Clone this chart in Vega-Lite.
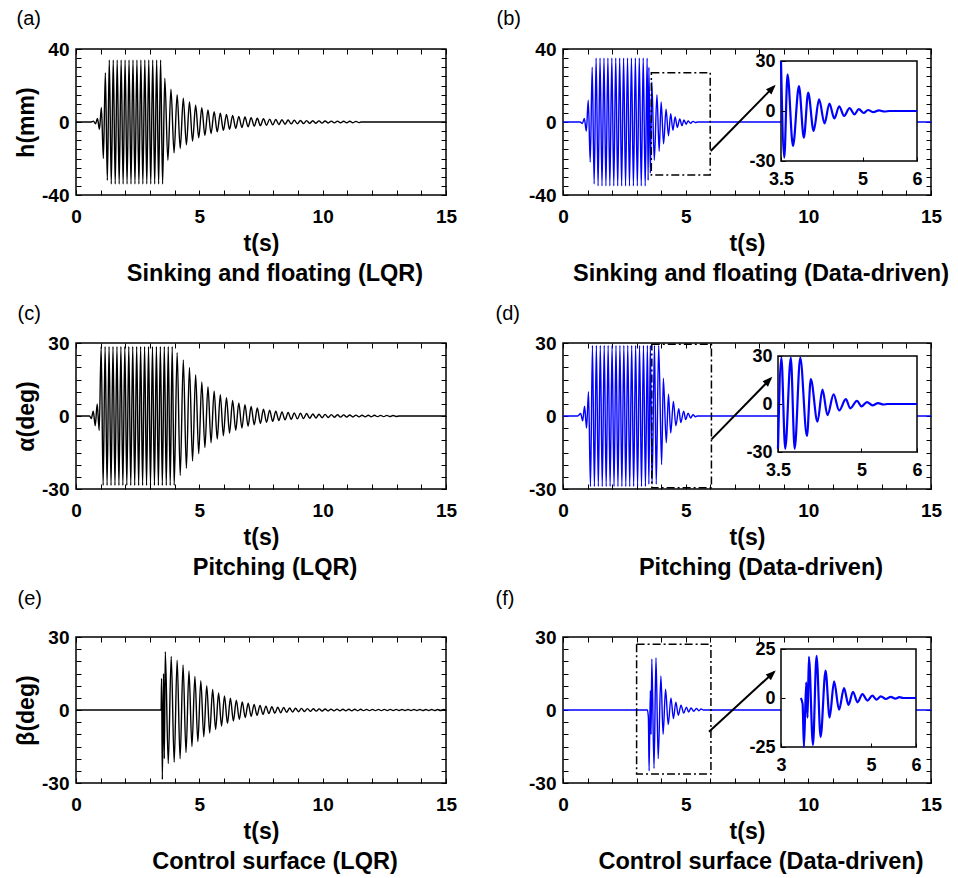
{
"$schema": "https://vega.github.io/schema/vega-lite/v6.json",
"background": "white",
"padding": {"left": 14, "top": 7, "right": 2, "bottom": 2},
"datasets": {
"a": [{"t":0,"v":0},{"t":0.6,"v":0},{"t":0.71,"v":0.5},{"t":0.79,"v":-1},{"t":0.87,"v":2},{"t":0.95,"v":-4},{"t":1.03,"v":8},{"t":1.11,"v":-20},{"t":1.19,"v":27},{"t":1.27,"v":-32},{"t":1.35,"v":34},{"t":1.43,"v":-34},{"t":1.51,"v":34},{"t":1.59,"v":-34},{"t":1.67,"v":34},{"t":1.75,"v":-34},{"t":1.83,"v":34},{"t":1.91,"v":-34},{"t":1.99,"v":34},{"t":2.07,"v":-34},{"t":2.15,"v":34},{"t":2.23,"v":-34},{"t":2.31,"v":34},{"t":2.39,"v":-34},{"t":2.47,"v":34},{"t":2.55,"v":-34},{"t":2.63,"v":34},{"t":2.71,"v":-34},{"t":2.79,"v":34},{"t":2.87,"v":-34},{"t":2.95,"v":34},{"t":3.03,"v":-34},{"t":3.11,"v":34},{"t":3.19,"v":-34},{"t":3.27,"v":34},{"t":3.35,"v":-34},{"t":3.43,"v":34},{"t":3.51,"v":-34},{"t":3.6,"v":24},{"t":3.725,"v":-21},{"t":3.85,"v":18},{"t":3.975,"v":-17},{"t":4.1,"v":15},{"t":4.225,"v":-14.5},{"t":4.35,"v":13},{"t":4.475,"v":-12.5},{"t":4.6,"v":11},{"t":4.725,"v":-10.5},{"t":4.85,"v":9.2},{"t":4.975,"v":-8.7},{"t":5.1,"v":7.8},{"t":5.225,"v":-7.4},{"t":5.35,"v":6.6},{"t":5.475,"v":-6.3},{"t":5.6,"v":5.6},{"t":5.725,"v":-5.4},{"t":5.85,"v":4.8},{"t":5.975,"v":-4.6},{"t":6.1,"v":4.2},{"t":6.225,"v":-4},{"t":6.35,"v":3.6},{"t":6.475,"v":-3.5},{"t":6.6,"v":3.1},{"t":6.725,"v":-3},{"t":6.85,"v":2.7},{"t":6.975,"v":-2.6},{"t":7.1,"v":2.35},{"t":7.225,"v":-2.3},{"t":7.35,"v":2.05},{"t":7.475,"v":-2},{"t":7.6,"v":1.8},{"t":7.725,"v":-1.75},{"t":7.85,"v":1.6},{"t":7.975,"v":-1.55},{"t":8.1,"v":1.4},{"t":8.225,"v":-1.35},{"t":8.35,"v":1.22},{"t":8.475,"v":-1.2},{"t":8.6,"v":1.08},{"t":8.725,"v":-1.05},{"t":8.85,"v":0.96},{"t":8.975,"v":-0.95},{"t":9.1,"v":0.86},{"t":9.225,"v":-0.85},{"t":9.35,"v":0.77},{"t":9.475,"v":-0.75},{"t":9.6,"v":0.7},{"t":9.725,"v":-0.68},{"t":9.85,"v":0.62},{"t":9.975,"v":-0.6},{"t":10.1,"v":0.56},{"t":10.225,"v":-0.55},{"t":10.35,"v":0.5},{"t":10.475,"v":-0.5},{"t":10.6,"v":0.46},{"t":10.725,"v":-0.45},{"t":10.85,"v":0.42},{"t":10.975,"v":-0.42},{"t":11.1,"v":0.4},{"t":11.225,"v":-0.38},{"t":11.35,"v":0.35},{"t":11.475,"v":-0.33},{"t":11.55,"v":0},{"t":15,"v":0}],
"b": [{"t":0,"v":0},{"t":0.7,"v":0},{"t":0.79,"v":-0.8},{"t":0.87,"v":2},{"t":0.95,"v":-5},{"t":1.03,"v":12},{"t":1.11,"v":-22},{"t":1.19,"v":30},{"t":1.27,"v":-34},{"t":1.35,"v":35},{"t":1.43,"v":-35},{"t":1.51,"v":35},{"t":1.59,"v":-35},{"t":1.67,"v":35},{"t":1.75,"v":-35},{"t":1.83,"v":35},{"t":1.91,"v":-35},{"t":1.99,"v":35},{"t":2.07,"v":-35},{"t":2.15,"v":35},{"t":2.23,"v":-35},{"t":2.31,"v":35},{"t":2.39,"v":-35},{"t":2.47,"v":35},{"t":2.55,"v":-35},{"t":2.63,"v":35},{"t":2.71,"v":-35},{"t":2.79,"v":35},{"t":2.87,"v":-35},{"t":2.95,"v":35},{"t":3.03,"v":-35},{"t":3.11,"v":35},{"t":3.19,"v":-35},{"t":3.27,"v":35},{"t":3.35,"v":-35},{"t":3.43,"v":35},{"t":3.47,"v":-32},{"t":3.5,"v":30},{"t":3.56,"v":-28},{"t":3.62,"v":22},{"t":3.72,"v":-21},{"t":3.83,"v":15},{"t":3.92,"v":-16},{"t":4.0,"v":11},{"t":4.1,"v":-12},{"t":4.2,"v":7},{"t":4.3,"v":-7.5},{"t":4.39,"v":4.5},{"t":4.48,"v":-4.5},{"t":4.57,"v":2.8},{"t":4.66,"v":-3},{"t":4.76,"v":1.7},{"t":4.85,"v":-2},{"t":4.93,"v":1.1},{"t":5.02,"v":-1.2},{"t":5.1,"v":0.6},{"t":5.2,"v":-0.7},{"t":5.3,"v":0.35},{"t":5.4,"v":-0.3},{"t":5.5,"v":0},{"t":6,"v":0},{"t":15,"v":0}],
"c": [{"t":0,"v":0},{"t":0.55,"v":0},{"t":0.62,"v":-1},{"t":0.7,"v":2},{"t":0.78,"v":-4},{"t":0.86,"v":5},{"t":0.94,"v":-6},{"t":1.02,"v":28.5},{"t":1.1,"v":-28.5},{"t":1.18,"v":28.5},{"t":1.26,"v":-28.5},{"t":1.34,"v":28.5},{"t":1.42,"v":-28.5},{"t":1.5,"v":28.5},{"t":1.58,"v":-28.5},{"t":1.66,"v":28.5},{"t":1.74,"v":-28.5},{"t":1.82,"v":28.5},{"t":1.9,"v":-28.5},{"t":1.98,"v":28.5},{"t":2.06,"v":-28.5},{"t":2.14,"v":28.5},{"t":2.22,"v":-28.5},{"t":2.3,"v":28.5},{"t":2.38,"v":-28.5},{"t":2.46,"v":28.5},{"t":2.54,"v":-28.5},{"t":2.62,"v":28.5},{"t":2.7,"v":-28.5},{"t":2.78,"v":28.5},{"t":2.86,"v":-28.5},{"t":2.94,"v":28.5},{"t":3.02,"v":-28.5},{"t":3.1,"v":28.5},{"t":3.18,"v":-28.5},{"t":3.26,"v":28.5},{"t":3.34,"v":-28.5},{"t":3.42,"v":28.5},{"t":3.5,"v":-28.5},{"t":3.58,"v":28.5},{"t":3.66,"v":-28.5},{"t":3.74,"v":28.5},{"t":3.82,"v":-28.5},{"t":3.9,"v":28.5},{"t":3.98,"v":-28.5},{"t":4.1,"v":26},{"t":4.225,"v":-24.5},{"t":4.35,"v":23},{"t":4.475,"v":-21.5},{"t":4.6,"v":20},{"t":4.725,"v":-18.5},{"t":4.85,"v":17},{"t":4.975,"v":-15.5},{"t":5.1,"v":14},{"t":5.225,"v":-13},{"t":5.35,"v":12},{"t":5.475,"v":-11},{"t":5.6,"v":10.3},{"t":5.725,"v":-9.5},{"t":5.85,"v":8.8},{"t":5.975,"v":-8.1},{"t":6.1,"v":7.5},{"t":6.225,"v":-7},{"t":6.35,"v":6.4},{"t":6.475,"v":-5.9},{"t":6.6,"v":5.4},{"t":6.725,"v":-5},{"t":6.85,"v":4.6},{"t":6.975,"v":-4.2},{"t":7.1,"v":3.9},{"t":7.225,"v":-3.6},{"t":7.35,"v":3.3},{"t":7.475,"v":-3.05},{"t":7.6,"v":2.8},{"t":7.725,"v":-2.6},{"t":7.85,"v":2.4},{"t":7.975,"v":-2.2},{"t":8.1,"v":2.0},{"t":8.225,"v":-1.85},{"t":8.35,"v":1.7},{"t":8.475,"v":-1.6},{"t":8.6,"v":1.5},{"t":8.725,"v":-1.4},{"t":8.85,"v":1.3},{"t":8.975,"v":-1.2},{"t":9.1,"v":1.1},{"t":9.225,"v":-1.05},{"t":9.35,"v":1.0},{"t":9.475,"v":-0.92},{"t":9.6,"v":0.85},{"t":9.725,"v":-0.8},{"t":9.85,"v":0.75},{"t":9.975,"v":-0.7},{"t":10.1,"v":0.65},{"t":10.225,"v":-0.62},{"t":10.35,"v":0.58},{"t":10.475,"v":-0.54},{"t":10.6,"v":0.5},{"t":10.725,"v":-0.48},{"t":10.85,"v":0.45},{"t":10.975,"v":-0.43},{"t":11.1,"v":0.4},{"t":11.225,"v":-0.38},{"t":11.35,"v":0.36},{"t":11.475,"v":-0.35},{"t":11.6,"v":0.33},{"t":11.725,"v":-0.32},{"t":11.85,"v":0.3},{"t":11.975,"v":-0.29},{"t":12.1,"v":0.28},{"t":12.225,"v":-0.27},{"t":12.35,"v":0.26},{"t":12.475,"v":-0.25},{"t":12.6,"v":0.24},{"t":12.725,"v":-0.23},{"t":12.85,"v":0.22},{"t":12.975,"v":-0.21},{"t":13.1,"v":0},{"t":15,"v":0}],
"d": [{"t":0,"v":0},{"t":0.6,"v":0},{"t":0.72,"v":1},{"t":0.8,"v":-2},{"t":0.88,"v":4},{"t":0.96,"v":-5},{"t":1.04,"v":10},{"t":1.12,"v":-29},{"t":1.2,"v":29},{"t":1.28,"v":-29},{"t":1.36,"v":29},{"t":1.44,"v":-29},{"t":1.52,"v":29},{"t":1.6,"v":-29},{"t":1.68,"v":29},{"t":1.76,"v":-29},{"t":1.84,"v":29},{"t":1.92,"v":-29},{"t":2.0,"v":29},{"t":2.08,"v":-29},{"t":2.16,"v":29},{"t":2.24,"v":-29},{"t":2.32,"v":29},{"t":2.4,"v":-29},{"t":2.48,"v":29},{"t":2.56,"v":-29},{"t":2.64,"v":29},{"t":2.72,"v":-29},{"t":2.8,"v":29},{"t":2.88,"v":-29},{"t":2.96,"v":29},{"t":3.04,"v":-29},{"t":3.12,"v":29},{"t":3.2,"v":-29},{"t":3.28,"v":29},{"t":3.36,"v":-29},{"t":3.44,"v":29},{"t":3.5,"v":-28},{"t":3.56,"v":29},{"t":3.63,"v":-28},{"t":3.73,"v":29},{"t":3.8,"v":-28},{"t":3.9,"v":29},{"t":4.02,"v":-20},{"t":4.09,"v":15.5},{"t":4.21,"v":-11},{"t":4.3,"v":9},{"t":4.39,"v":-7},{"t":4.5,"v":6},{"t":4.6,"v":-4},{"t":4.72,"v":3},{"t":4.8,"v":-2.7},{"t":4.92,"v":2},{"t":5.0,"v":-1.5},{"t":5.1,"v":1.2},{"t":5.2,"v":-0.8},{"t":5.3,"v":0.5},{"t":5.4,"v":-0.3},{"t":5.47,"v":0},{"t":6,"v":0},{"t":15,"v":0}],
"e": [{"t":0,"v":0},{"t":3.45,"v":0},{"t":3.47,"v":13},{"t":3.5,"v":-28.5},{"t":3.55,"v":15},{"t":3.58,"v":-20},{"t":3.62,"v":24},{"t":3.74,"v":-22},{"t":3.86,"v":22},{"t":3.98,"v":-21.5},{"t":4.1,"v":20.5},{"t":4.22,"v":-20},{"t":4.34,"v":18.5},{"t":4.46,"v":-17.5},{"t":4.58,"v":16},{"t":4.7,"v":-15},{"t":4.82,"v":13.8},{"t":4.94,"v":-13},{"t":5.06,"v":12},{"t":5.18,"v":-11},{"t":5.3,"v":10},{"t":5.42,"v":-9.5},{"t":5.54,"v":8.4},{"t":5.66,"v":-8},{"t":5.78,"v":7},{"t":5.9,"v":-6.6},{"t":6.02,"v":5.8},{"t":6.14,"v":-5.5},{"t":6.26,"v":4.8},{"t":6.38,"v":-4.5},{"t":6.5,"v":4},{"t":6.62,"v":-3.8},{"t":6.74,"v":3.3},{"t":6.86,"v":-3.1},{"t":6.98,"v":2.8},{"t":7.1,"v":-2.6},{"t":7.22,"v":2.3},{"t":7.34,"v":-2.2},{"t":7.46,"v":1.9},{"t":7.58,"v":-1.8},{"t":7.7,"v":1.6},{"t":7.82,"v":-1.5},{"t":7.94,"v":1.35},{"t":8.06,"v":-1.3},{"t":8.18,"v":1.15},{"t":8.3,"v":-1.1},{"t":8.42,"v":1.0},{"t":8.54,"v":-0.95},{"t":8.66,"v":0.85},{"t":8.78,"v":-0.8},{"t":8.9,"v":0.75},{"t":9.02,"v":-0.7},{"t":9.14,"v":0.65},{"t":9.26,"v":-0.62},{"t":9.38,"v":0.58},{"t":9.5,"v":-0.55},{"t":9.62,"v":0.5},{"t":9.74,"v":-0.48},{"t":9.86,"v":0.45},{"t":9.98,"v":-0.43},{"t":10.1,"v":0.4},{"t":10.22,"v":-0.38},{"t":10.34,"v":0.37},{"t":10.46,"v":-0.35},{"t":10.58,"v":0.34},{"t":10.7,"v":-0.33},{"t":10.82,"v":0.32},{"t":10.94,"v":-0.31},{"t":11.06,"v":0.3},{"t":11.18,"v":-0.3},{"t":11.3,"v":0.29},{"t":11.42,"v":-0.28},{"t":11.54,"v":0.28},{"t":11.66,"v":-0.27},{"t":11.78,"v":0.27},{"t":11.9,"v":-0.26},{"t":12.02,"v":0.26},{"t":12.14,"v":-0.25},{"t":12.26,"v":0.25},{"t":12.38,"v":-0.25},{"t":12.5,"v":0.25},{"t":12.62,"v":-0.24},{"t":12.74,"v":0.24},{"t":12.86,"v":-0.24},{"t":12.98,"v":0.24},{"t":13.1,"v":-0.23},{"t":13.22,"v":0.23},{"t":13.34,"v":-0.23},{"t":13.46,"v":0.23},{"t":13.58,"v":-0.22},{"t":13.7,"v":0.22},{"t":13.82,"v":-0.22},{"t":13.94,"v":0.22},{"t":14.06,"v":-0.22},{"t":14.18,"v":0.21},{"t":14.3,"v":-0.21},{"t":14.42,"v":0.21},{"t":14.54,"v":-0.21},{"t":14.66,"v":0.2},{"t":14.78,"v":-0.2},{"t":14.9,"v":0.2},{"t":15,"v":0}],
"f": [{"t":0,"v":0},{"t":3.44,"v":0},{"t":3.48,"v":-3},{"t":3.51,"v":-25},{"t":3.56,"v":8},{"t":3.59,"v":-10},{"t":3.62,"v":21},{"t":3.71,"v":-24},{"t":3.79,"v":21.5},{"t":3.88,"v":-20},{"t":3.99,"v":14},{"t":4.08,"v":-10},{"t":4.18,"v":8.5},{"t":4.29,"v":-6},{"t":4.4,"v":5},{"t":4.5,"v":-3.5},{"t":4.6,"v":3.2},{"t":4.7,"v":-2.2},{"t":4.81,"v":2},{"t":4.92,"v":-1.3},{"t":5.03,"v":1.2},{"t":5.12,"v":-0.8},{"t":5.22,"v":0.8},{"t":5.33,"v":-0.5},{"t":5.44,"v":0.6},{"t":5.54,"v":-0.3},{"t":5.63,"v":0.4},{"t":5.72,"v":0},{"t":6,"v":0},{"t":15,"v":0}]
},
"columns": 2,
"spacing": {"row": 148, "column": 117},
"bounds": "flush",
"concat": [
{
 "width": 370, "height": 146,
 "title": {"text": "Sinking and floating (LQR)"},
 "layer": [
  {"data": {"name": "a"}, "mark": {"type": "line", "color": "black", "strokeWidth": 1.4, "interpolate": "monotone"},
   "encoding": {
    "x": {"field": "t", "type": "quantitative", "scale": {"domain": [0, 15], "nice": false, "zero": false}, "axis": {"orient": "bottom", "title": "t(s)", "values": [0,1,2,3,4,5,6,7,8,9,10,11,12,13,14,15], "labelExpr": "datum.value % 5 === 0 ? '' + datum.value : ''"}},
    "y": {"field": "v", "type": "quantitative", "scale": {"domain": [-40, 40], "nice": false, "zero": false}, "axis": {"orient": "left", "title": "h(mm)", "values": [-40,-35,-30,-25,-20,-15,-10,-5,0,5,10,15,20,25,30,35,40], "labelExpr": "datum.value % 40 === 0 ? '' + datum.value : ''"}}
   }},
  {"data": {"values": [{}]}, "mark": {"type": "point", "opacity": 0},
   "encoding": {
    "x": {"datum": 0, "type": "quantitative", "scale": {"domain": [0, 15], "nice": false, "zero": false}, "axis": {"orient": "top", "labels": false, "values": [0,1,2,3,4,5,6,7,8,9,10,11,12,13,14,15], "title": "(a)", "titleAnchor": "start", "titleAlign": "left", "titleX": -60, "titleY": -31, "titleBaseline": "middle", "titleFontWeight": "normal", "titleFontSize": 20}},
    "y": {"datum": 0, "type": "quantitative", "scale": {"domain": [-40, 40], "nice": false, "zero": false}, "axis": {"orient": "right", "labels": false, "title": null, "values": [-40,-35,-30,-25,-20,-15,-10,-5,0,5,10,15,20,25,30,35,40]}}
   }}
 ],
 "resolve": {"scale": {"x": "independent", "y": "independent"}, "axis": {"x": "independent", "y": "independent"}}
},
{
 "width": 368, "height": 146,
 "title": {"text": "Sinking and floating (Data-driven)"},
 "layer": [
  {"data": {"name": "b"}, "mark": {"type": "line", "color": "#0000FF", "strokeWidth": 1.4, "interpolate": "monotone"},
   "encoding": {
    "x": {"field": "t", "type": "quantitative", "scale": {"domain": [0, 15], "nice": false, "zero": false}, "axis": {"orient": "bottom", "title": "t(s)", "values": [0,1,2,3,4,5,6,7,8,9,10,11,12,13,14,15], "labelExpr": "datum.value % 5 === 0 ? '' + datum.value : ''"}},
    "y": {"field": "v", "type": "quantitative", "scale": {"domain": [-40, 40], "nice": false, "zero": false}, "axis": {"orient": "left", "title": null, "values": [-40,-35,-30,-25,-20,-15,-10,-5,0,5,10,15,20,25,30,35,40], "labelExpr": "datum.value % 40 === 0 ? '' + datum.value : ''"}}
   }},
  {"data": {"values": [{}]}, "mark": {"type": "rect", "filled": false, "stroke": "black", "strokeWidth": 1.5, "strokeDash": [8, 3, 2, 3]},
   "encoding": {"x": {"datum": 3.6, "type": "quantitative", "scale": {"domain": [0, 15], "nice": false, "zero": false}, "axis": null}, "x2": {"datum": 6.0}, "y": {"datum": -29, "type": "quantitative", "scale": {"domain": [-40, 40], "nice": false, "zero": false}, "axis": null}, "y2": {"datum": 27}}},
  {"data": {"values": [{}]}, "mark": {"type": "rule", "color": "black", "strokeWidth": 2},
   "encoding": {"x": {"datum": 6.02, "type": "quantitative", "scale": {"domain": [0, 15], "nice": false, "zero": false}, "axis": null}, "x2": {"datum": 8.6}, "y": {"datum": -15.9, "type": "quantitative", "scale": {"domain": [-40, 40], "nice": false, "zero": false}, "axis": null}, "y2": {"datum": 19.5}}},
  {"data": {"values": [{}]}, "mark": {"type": "point", "shape": "M0,0L0.38,1L-0.38,1Z", "filled": true, "color": "black", "opacity": 1, "size": 400, "angle": 44.5},
   "encoding": {"x": {"datum": 8.67, "type": "quantitative", "scale": {"domain": [0, 15], "nice": false, "zero": false}, "axis": null}, "y": {"datum": 20.4, "type": "quantitative", "scale": {"domain": [-40, 40], "nice": false, "zero": false}, "axis": null}}},
  {"data": {"values": [{}]}, "mark": {"type": "rect", "fill": "white", "stroke": "black", "strokeWidth": 1.5},
   "encoding": {
    "x": {"datum": 3.5, "type": "quantitative", "scale": {"domain": [3.5, 6], "range": [218, 354], "nice": false, "zero": false}, "axis": {"orient": "bottom", "offset": -34, "values": [3.5, 5, 6], "labelExpr": "'' + datum.value", "title": null, "labelFontSize": 18, "labelPadding": 13, "tickSize": -4, "zindex": 1}},
    "x2": {"datum": 6},
    "y": {"datum": -30, "type": "quantitative", "scale": {"domain": [-30, 30], "range": [112, 12], "nice": false, "zero": false}, "axis": {"orient": "left", "offset": -218, "values": [-30, 0, 30], "labelExpr": "'' + datum.value", "title": null, "labelFontSize": 18, "labelPadding": 10, "tickSize": -4, "zindex": 1}},
    "y2": {"datum": 30}
   }},
  {"data": {"name": "b"}, "transform": [{"filter": "datum.t >= 3.5 && datum.t <= 6"}], "mark": {"type": "line", "color": "#0000FF", "strokeWidth": 2.2, "interpolate": "monotone"},
   "encoding": {"x": {"field": "t", "type": "quantitative", "scale": {"domain": [3.5, 6], "range": [218, 354], "nice": false, "zero": false}, "axis": null}, "y": {"field": "v", "type": "quantitative", "scale": {"domain": [-30, 30], "range": [112, 12], "nice": false, "zero": false}, "axis": null}}},
  {"data": {"values": [{}]}, "mark": {"type": "point", "opacity": 0},
   "encoding": {
    "x": {"datum": 0, "type": "quantitative", "scale": {"domain": [0, 15], "nice": false, "zero": false}, "axis": {"orient": "top", "labels": false, "values": [0,1,2,3,4,5,6,7,8,9,10,11,12,13,14,15], "title": "(b)", "titleAnchor": "start", "titleAlign": "left", "titleX": -67, "titleY": -31, "titleBaseline": "middle", "titleFontWeight": "normal", "titleFontSize": 20}},
    "y": {"datum": 0, "type": "quantitative", "scale": {"domain": [-40, 40], "nice": false, "zero": false}, "axis": {"orient": "right", "labels": false, "title": null, "values": [-40,-35,-30,-25,-20,-15,-10,-5,0,5,10,15,20,25,30,35,40]}}
   }}
 ],
 "resolve": {"scale": {"x": "independent", "y": "independent"}, "axis": {"x": "independent", "y": "independent"}}
},
{
 "width": 370, "height": 146,
 "title": {"text": "Pitching (LQR)"},
 "layer": [
  {"data": {"name": "c"}, "mark": {"type": "line", "color": "black", "strokeWidth": 1.4, "interpolate": "monotone"},
   "encoding": {
    "x": {"field": "t", "type": "quantitative", "scale": {"domain": [0, 15], "nice": false, "zero": false}, "axis": {"orient": "bottom", "title": "t(s)", "values": [0,1,2,3,4,5,6,7,8,9,10,11,12,13,14,15], "labelExpr": "datum.value % 5 === 0 ? '' + datum.value : ''"}},
    "y": {"field": "v", "type": "quantitative", "scale": {"domain": [-30, 30], "nice": false, "zero": false}, "axis": {"orient": "left", "title": "α(deg)", "values": [-30,-25,-20,-15,-10,-5,0,5,10,15,20,25,30], "labelExpr": "datum.value % 30 === 0 ? '' + datum.value : ''"}}
   }},
  {"data": {"values": [{}]}, "mark": {"type": "point", "opacity": 0},
   "encoding": {
    "x": {"datum": 0, "type": "quantitative", "scale": {"domain": [0, 15], "nice": false, "zero": false}, "axis": {"orient": "top", "labels": false, "values": [0,1,2,3,4,5,6,7,8,9,10,11,12,13,14,15], "title": "(c)", "titleAnchor": "start", "titleAlign": "left", "titleX": -59, "titleY": -30, "titleBaseline": "middle", "titleFontWeight": "normal", "titleFontSize": 20}},
    "y": {"datum": 0, "type": "quantitative", "scale": {"domain": [-30, 30], "nice": false, "zero": false}, "axis": {"orient": "right", "labels": false, "title": null, "values": [-30,-25,-20,-15,-10,-5,0,5,10,15,20,25,30]}}
   }}
 ],
 "resolve": {"scale": {"x": "independent", "y": "independent"}, "axis": {"x": "independent", "y": "independent"}}
},
{
 "width": 368, "height": 146,
 "title": {"text": "Pitching (Data-driven)"},
 "layer": [
  {"data": {"name": "d"}, "mark": {"type": "line", "color": "#0000FF", "strokeWidth": 1.4, "interpolate": "monotone"},
   "encoding": {
    "x": {"field": "t", "type": "quantitative", "scale": {"domain": [0, 15], "nice": false, "zero": false}, "axis": {"orient": "bottom", "title": "t(s)", "values": [0,1,2,3,4,5,6,7,8,9,10,11,12,13,14,15], "labelExpr": "datum.value % 5 === 0 ? '' + datum.value : ''"}},
    "y": {"field": "v", "type": "quantitative", "scale": {"domain": [-30, 30], "nice": false, "zero": false}, "axis": {"orient": "left", "title": null, "values": [-30,-25,-20,-15,-10,-5,0,5,10,15,20,25,30], "labelExpr": "datum.value % 30 === 0 ? '' + datum.value : ''"}}
   }},
  {"data": {"values": [{}]}, "mark": {"type": "rect", "filled": false, "stroke": "black", "strokeWidth": 1.5, "strokeDash": [8, 3, 2, 3]},
   "encoding": {"x": {"datum": 3.62, "type": "quantitative", "scale": {"domain": [0, 15], "nice": false, "zero": false}, "axis": null}, "x2": {"datum": 6.05}, "y": {"datum": -29.5, "type": "quantitative", "scale": {"domain": [-30, 30], "nice": false, "zero": false}, "axis": null}, "y2": {"datum": 29.5}}},
  {"data": {"values": [{}]}, "mark": {"type": "rule", "color": "black", "strokeWidth": 2},
   "encoding": {"x": {"datum": 6.05, "type": "quantitative", "scale": {"domain": [0, 15], "nice": false, "zero": false}, "axis": null}, "x2": {"datum": 8.47}, "y": {"datum": -9.6, "type": "quantitative", "scale": {"domain": [-30, 30], "nice": false, "zero": false}, "axis": null}, "y2": {"datum": 15.4}}},
  {"data": {"values": [{}]}, "mark": {"type": "point", "shape": "M0,0L0.38,1L-0.38,1Z", "filled": true, "color": "black", "opacity": 1, "size": 400, "angle": 44.2},
   "encoding": {"x": {"datum": 8.53, "type": "quantitative", "scale": {"domain": [0, 15], "nice": false, "zero": false}, "axis": null}, "y": {"datum": 16.1, "type": "quantitative", "scale": {"domain": [-30, 30], "nice": false, "zero": false}, "axis": null}}},
  {"data": {"values": [{}]}, "mark": {"type": "rect", "fill": "white", "stroke": "black", "strokeWidth": 1.5},
   "encoding": {
    "x": {"datum": 3.5, "type": "quantitative", "scale": {"domain": [3.5, 6], "range": [215, 354], "nice": false, "zero": false}, "axis": {"orient": "bottom", "offset": -37, "values": [3.5, 5, 6], "labelExpr": "'' + datum.value", "title": null, "labelFontSize": 18, "labelPadding": 13, "tickSize": -4, "zindex": 1}},
    "x2": {"datum": 6},
    "y": {"datum": -30, "type": "quantitative", "scale": {"domain": [-30, 30], "range": [109, 13], "nice": false, "zero": false}, "axis": {"orient": "left", "offset": -215, "values": [-30, 0, 30], "labelExpr": "'' + datum.value", "title": null, "labelFontSize": 18, "labelPadding": 10, "tickSize": -4, "zindex": 1}},
    "y2": {"datum": 30}
   }},
  {"data": {"name": "d"}, "transform": [{"filter": "datum.t >= 3.5 && datum.t <= 6"}], "mark": {"type": "line", "color": "#0000FF", "strokeWidth": 2.2, "interpolate": "monotone"},
   "encoding": {"x": {"field": "t", "type": "quantitative", "scale": {"domain": [3.5, 6], "range": [215, 354], "nice": false, "zero": false}, "axis": null}, "y": {"field": "v", "type": "quantitative", "scale": {"domain": [-30, 30], "range": [109, 13], "nice": false, "zero": false}, "axis": null}}},
  {"data": {"values": [{}]}, "mark": {"type": "point", "opacity": 0},
   "encoding": {
    "x": {"datum": 0, "type": "quantitative", "scale": {"domain": [0, 15], "nice": false, "zero": false}, "axis": {"orient": "top", "labels": false, "values": [0,1,2,3,4,5,6,7,8,9,10,11,12,13,14,15], "title": "(d)", "titleAnchor": "start", "titleAlign": "left", "titleX": -68, "titleY": -30, "titleBaseline": "middle", "titleFontWeight": "normal", "titleFontSize": 20}},
    "y": {"datum": 0, "type": "quantitative", "scale": {"domain": [-30, 30], "nice": false, "zero": false}, "axis": {"orient": "right", "labels": false, "title": null, "values": [-30,-25,-20,-15,-10,-5,0,5,10,15,20,25,30]}}
   }}
 ],
 "resolve": {"scale": {"x": "independent", "y": "independent"}, "axis": {"x": "independent", "y": "independent"}}
},
{
 "width": 370, "height": 146,
 "title": {"text": "Control surface (LQR)"},
 "layer": [
  {"data": {"name": "e"}, "mark": {"type": "line", "color": "black", "strokeWidth": 1.4, "interpolate": "monotone"},
   "encoding": {
    "x": {"field": "t", "type": "quantitative", "scale": {"domain": [0, 15], "nice": false, "zero": false}, "axis": {"orient": "bottom", "title": "t(s)", "values": [0,1,2,3,4,5,6,7,8,9,10,11,12,13,14,15], "labelExpr": "datum.value % 5 === 0 ? '' + datum.value : ''"}},
    "y": {"field": "v", "type": "quantitative", "scale": {"domain": [-30, 30], "nice": false, "zero": false}, "axis": {"orient": "left", "title": "β(deg)", "values": [-30,-25,-20,-15,-10,-5,0,5,10,15,20,25,30], "labelExpr": "datum.value % 30 === 0 ? '' + datum.value : ''"}}
   }},
  {"data": {"values": [{}]}, "mark": {"type": "point", "opacity": 0},
   "encoding": {
    "x": {"datum": 0, "type": "quantitative", "scale": {"domain": [0, 15], "nice": false, "zero": false}, "axis": {"orient": "top", "labels": false, "values": [0,1,2,3,4,5,6,7,8,9,10,11,12,13,14,15], "title": "(e)", "titleAnchor": "start", "titleAlign": "left", "titleX": -59, "titleY": -39, "titleBaseline": "middle", "titleFontWeight": "normal", "titleFontSize": 20}},
    "y": {"datum": 0, "type": "quantitative", "scale": {"domain": [-30, 30], "nice": false, "zero": false}, "axis": {"orient": "right", "labels": false, "title": null, "values": [-30,-25,-20,-15,-10,-5,0,5,10,15,20,25,30]}}
   }}
 ],
 "resolve": {"scale": {"x": "independent", "y": "independent"}, "axis": {"x": "independent", "y": "independent"}}
},
{
 "width": 368, "height": 146,
 "title": {"text": "Control surface (Data-driven)"},
 "layer": [
  {"data": {"name": "f"}, "mark": {"type": "line", "color": "#0000FF", "strokeWidth": 1.4, "interpolate": "monotone"},
   "encoding": {
    "x": {"field": "t", "type": "quantitative", "scale": {"domain": [0, 15], "nice": false, "zero": false}, "axis": {"orient": "bottom", "title": "t(s)", "values": [0,1,2,3,4,5,6,7,8,9,10,11,12,13,14,15], "labelExpr": "datum.value % 5 === 0 ? '' + datum.value : ''"}},
    "y": {"field": "v", "type": "quantitative", "scale": {"domain": [-30, 30], "nice": false, "zero": false}, "axis": {"orient": "left", "title": null, "values": [-30,-25,-20,-15,-10,-5,0,5,10,15,20,25,30], "labelExpr": "datum.value % 30 === 0 ? '' + datum.value : ''"}}
   }},
  {"data": {"values": [{}]}, "mark": {"type": "rect", "filled": false, "stroke": "black", "strokeWidth": 1.5, "strokeDash": [8, 3, 2, 3]},
   "encoding": {"x": {"datum": 3.0, "type": "quantitative", "scale": {"domain": [0, 15], "nice": false, "zero": false}, "axis": null}, "x2": {"datum": 6.03}, "y": {"datum": -26.3, "type": "quantitative", "scale": {"domain": [-30, 30], "nice": false, "zero": false}, "axis": null}, "y2": {"datum": 27}}},
  {"data": {"values": [{}]}, "mark": {"type": "rule", "color": "black", "strokeWidth": 2},
   "encoding": {"x": {"datum": 5.95, "type": "quantitative", "scale": {"domain": [0, 15], "nice": false, "zero": false}, "axis": null}, "x2": {"datum": 8.6}, "y": {"datum": -8.9, "type": "quantitative", "scale": {"domain": [-30, 30], "nice": false, "zero": false}, "axis": null}, "y2": {"datum": 15.6}}},
  {"data": {"values": [{}]}, "mark": {"type": "point", "shape": "M0,0L0.38,1L-0.38,1Z", "filled": true, "color": "black", "opacity": 1, "size": 400, "angle": 47.5},
   "encoding": {"x": {"datum": 8.67, "type": "quantitative", "scale": {"domain": [0, 15], "nice": false, "zero": false}, "axis": null}, "y": {"datum": 16.2, "type": "quantitative", "scale": {"domain": [-30, 30], "nice": false, "zero": false}, "axis": null}}},
  {"data": {"values": [{}]}, "mark": {"type": "rect", "fill": "white", "stroke": "black", "strokeWidth": 1.5},
   "encoding": {
    "x": {"datum": 3, "type": "quantitative", "scale": {"domain": [3, 6], "range": [218, 353], "nice": false, "zero": false}, "axis": {"orient": "bottom", "offset": -36, "values": [3, 5, 6], "labelExpr": "'' + datum.value", "title": null, "labelFontSize": 18, "labelPadding": 13, "tickSize": -4, "zindex": 1}},
    "x2": {"datum": 6},
    "y": {"datum": -25, "type": "quantitative", "scale": {"domain": [-25, 25], "range": [110, 12], "nice": false, "zero": false}, "axis": {"orient": "left", "offset": -218, "values": [-25, 0, 25], "labelExpr": "'' + datum.value", "title": null, "labelFontSize": 18, "labelPadding": 10, "tickSize": -4, "zindex": 1}},
    "y2": {"datum": 25}
   }},
  {"data": {"name": "f"}, "transform": [{"filter": "datum.t >= 3 && datum.t <= 6"}], "mark": {"type": "line", "color": "#0000FF", "strokeWidth": 2.2, "interpolate": "monotone"},
   "encoding": {"x": {"field": "t", "type": "quantitative", "scale": {"domain": [3, 6], "range": [218, 353], "nice": false, "zero": false}, "axis": null}, "y": {"field": "v", "type": "quantitative", "scale": {"domain": [-25, 25], "range": [110, 12], "nice": false, "zero": false}, "axis": null}}},
  {"data": {"values": [{}]}, "mark": {"type": "point", "opacity": 0},
   "encoding": {
    "x": {"datum": 0, "type": "quantitative", "scale": {"domain": [0, 15], "nice": false, "zero": false}, "axis": {"orient": "top", "labels": false, "values": [0,1,2,3,4,5,6,7,8,9,10,11,12,13,14,15], "title": "(f)", "titleAnchor": "start", "titleAlign": "left", "titleX": -68, "titleY": -39, "titleBaseline": "middle", "titleFontWeight": "normal", "titleFontSize": 20}},
    "y": {"datum": 0, "type": "quantitative", "scale": {"domain": [-30, 30], "nice": false, "zero": false}, "axis": {"orient": "right", "labels": false, "title": null, "values": [-30,-25,-20,-15,-10,-5,0,5,10,15,20,25,30]}}
   }}
 ],
 "resolve": {"scale": {"x": "independent", "y": "independent"}, "axis": {"x": "independent", "y": "independent"}}
}
],
"config": {
 "font": "Liberation Sans",
 "view": {"stroke": "black", "strokeWidth": 1.5},
 "axis": {"grid": false, "domain": false, "ticks": true, "tickColor": "black", "tickWidth": 1, "tickSize": -5, "labelColor": "black", "labelFont": "Liberation Sans", "labelFontSize": 19, "labelFontWeight": "bold", "labelFlush": false, "labelOverlap": false, "titleColor": "black", "titleFont": "Liberation Sans", "titleFontSize": 23, "titleFontWeight": "bold"},
 "axisBottom": {"labelPadding": 17.5, "titlePadding": 6},
 "axisLeft": {"labelPadding": 12, "titlePadding": 3},
 "title": {"orient": "bottom", "fontSize": 23.5, "fontWeight": "bold", "font": "Liberation Sans", "color": "black", "offset": 6, "dx": 14, "anchor": "middle"}
}
}
